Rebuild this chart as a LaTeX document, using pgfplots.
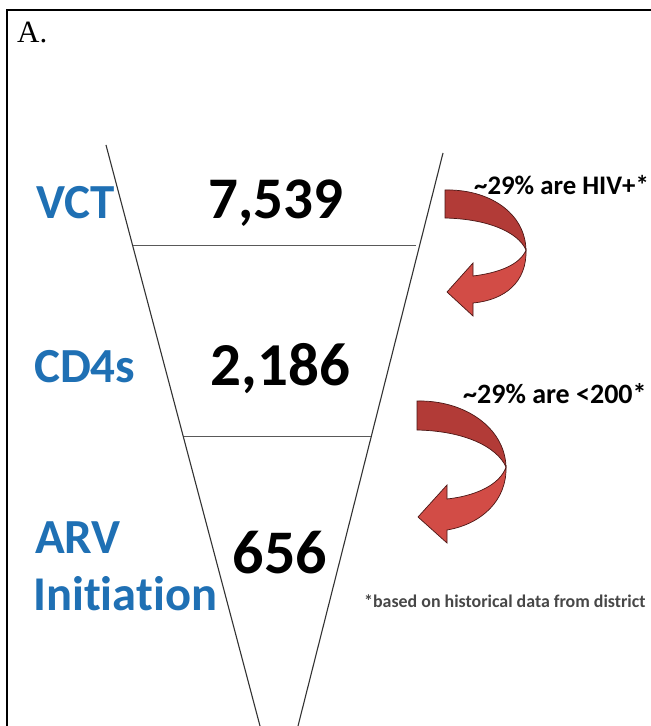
\documentclass[border=0pt]{standalone}
\usepackage{pgfplots}
\pgfplotsset{compat=1.18}
\usepackage{fontspec}
\setmainfont{Carlito}[Ligatures={NoCommon}]
\newfontfamily\serifA{Liberation Serif}
\definecolor{lblblue}{HTML}{1F70B4}
\definecolor{arrdark}{HTML}{B23B37}
\definecolor{arrlight}{HTML}{D24C46}
\definecolor{arredge}{HTML}{4A1614}
\begin{document}
\begin{tikzpicture}
\begin{axis}[
  scale only axis, width=651bp, height=726bp,
  xmin=0, xmax=651, ymin=0, ymax=726, y dir=reverse,
  hide axis, clip=false,
]
% background
\fill[white] (0,0) rectangle (651,726);
% frame
\addplot[black, line width=1.6bp, mark=none] coordinates {(7,726) (7,10) (651,10)};
% funnel
\addplot[black!80, line width=1.1bp, mark=none] coordinates {(106,145) (260,726)};
\addplot[black!80, line width=1.1bp, mark=none] coordinates {(443,153) (298,726)};
\addplot[black!65, line width=1bp, mark=none] coordinates {(133,245) (416,245)};
\addplot[black!65, line width=1bp, mark=none] coordinates {(184,436) (371,436)};
% arrow 1
\filldraw[fill=arrlight, draw=arredge, line width=0.7bp]
  (526,250) .. controls (527,282) and (505,300) .. (473,303) -- (473,316) -- (447,292)
  -- (473,263) -- (473,276) .. controls (498,273) and (520,265) .. (526,250) -- cycle;
\filldraw[fill=arrdark, draw=arredge, line width=0.7bp]
  (445,190) .. controls (488,189) and (525,212) .. (526,250)
  .. controls (518,232) and (488,219) .. (445,218) -- cycle;
% arrow 2
\filldraw[fill=arrlight, draw=arredge, line width=0.7bp]
  (506,467) .. controls (507,500) and (482,524) .. (447,530) -- (447,543) -- (418,517)
  -- (447,485) -- (447,499) .. controls (475,496) and (500,485) .. (506,467) -- cycle;
\filldraw[fill=arrdark, draw=arredge, line width=0.7bp]
  (417,401) .. controls (465,400) and (505,428) .. (506,467)
  .. controls (497,447) and (465,431) .. (417,430) -- cycle;
% texts
\node[anchor=base west, inner sep=0] at (17,43) {\fontsize{31bp}{31bp}\selectfont\serifA A.};
\node[anchor=base west, inner sep=0, text=lblblue] at (36,218) {\fontsize{49bp}{49bp}\selectfont\bfseries VCT};
\node[anchor=base west, inner sep=0, text=lblblue] at (34,382) {\fontsize{49bp}{49bp}\selectfont\bfseries CD4s};
\node[anchor=base west, inner sep=0, text=lblblue] at (35,553) {\fontsize{49bp}{49bp}\selectfont\bfseries ARV};
\node[anchor=base west, inner sep=0, text=lblblue] at (33,610) {\fontsize{48.5bp}{48.5bp}\selectfont\bfseries Initiation};
\node[anchor=base, inner sep=0] at (276,218) {\fontsize{59bp}{59bp}\selectfont\bfseries 7,539};
\node[anchor=base, inner sep=0] at (280.5,385) {\fontsize{61bp}{61bp}\selectfont\bfseries 2,186};
\node[anchor=base, inner sep=0] at (280,573) {\fontsize{62bp}{62bp}\selectfont\bfseries 656};
\node[anchor=base west, inner sep=0] at (474,195) {\fontsize{26.8bp}{26.8bp}\selectfont\bfseries \char"7E 29\% are HIV+*};
\node[anchor=base west, inner sep=0] at (463,403) {\fontsize{28bp}{28bp}\selectfont\bfseries \char"7E 29\% are <200*};
\node[anchor=base west, inner sep=0, text=black!72] at (364,607) {\fontsize{17.9bp}{17.9bp}\selectfont\bfseries *based on historical data from district};
\end{axis}
\pgfresetboundingbox
\path (current axis.south west) rectangle (current axis.north east);
\end{tikzpicture}
\end{document}
